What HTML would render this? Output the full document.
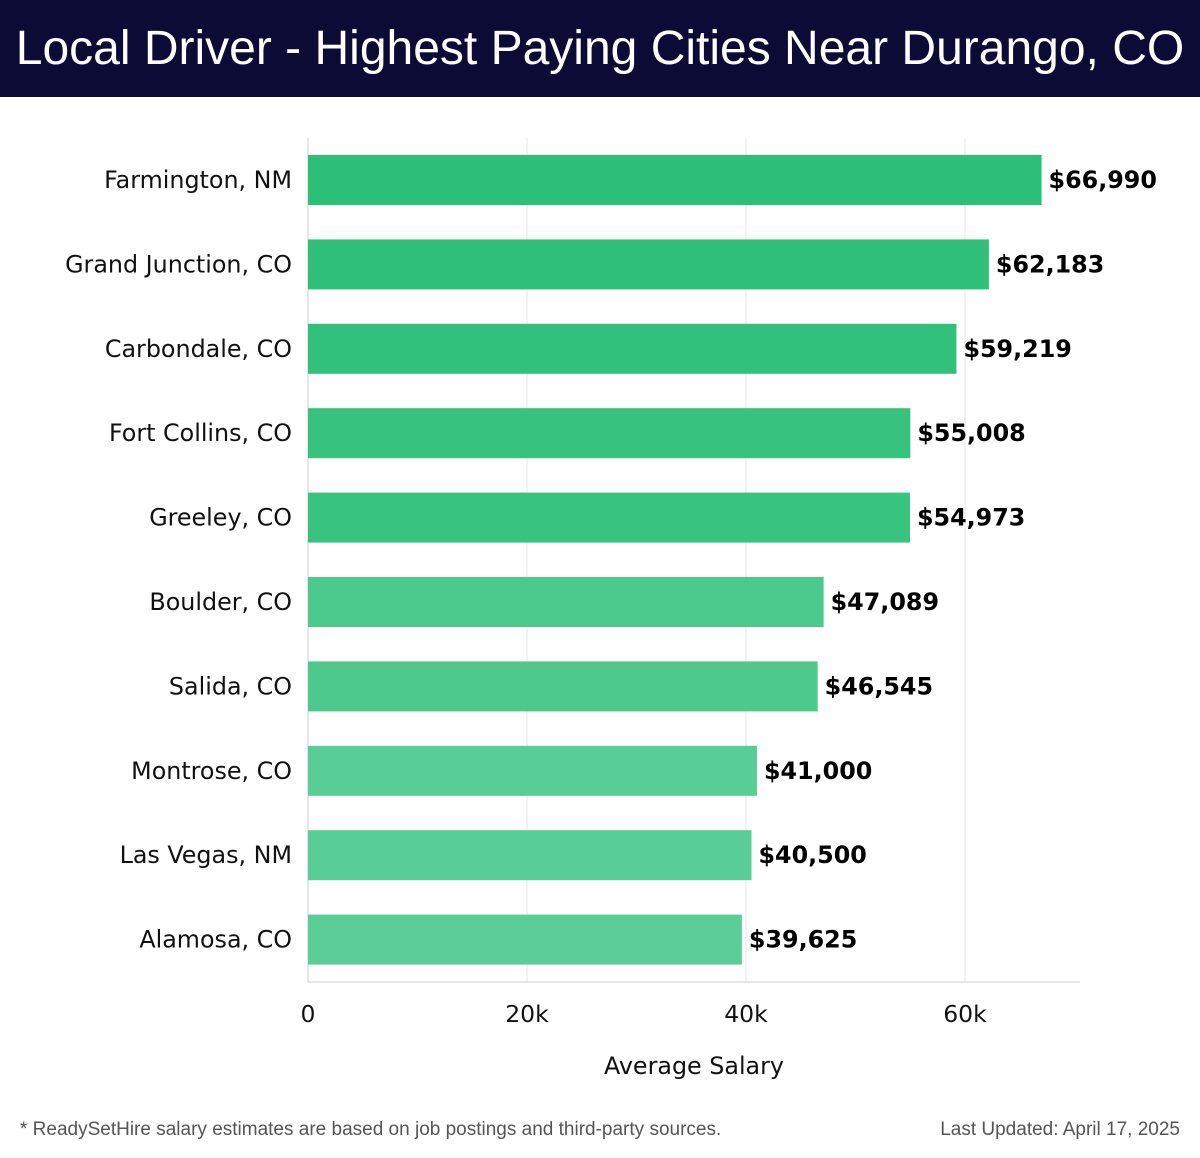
<!DOCTYPE html>
<html><head><meta charset="utf-8">
<style>
body{margin:0;width:1200px;height:1158px;background:#fff;font-family:"Liberation Sans","DejaVu Sans",sans-serif;overflow:hidden;position:relative}
#title{position:absolute;left:0;top:0;width:1200px;height:97px;background:#0b0b35;color:#fff;font-size:48px;line-height:97px;text-align:center;white-space:nowrap}
.foot{position:absolute;top:1119px;font-size:19px;color:#555}
svg text{font-family:"DejaVu Sans",sans-serif}
</style></head><body>
<div id="title">Local Driver - Highest Paying Cities Near Durango, CO</div>
<svg id="chart" width="1200" height="1100" style="position:absolute;left:0;top:0"></svg>
<div class="foot" style="left:20px">* ReadySetHire salary estimates are based on job postings and third-party sources.</div>
<div class="foot" style="right:20px">Last Updated: April 17, 2025</div>
<script>
const categories=["Farmington, NM","Grand Junction, CO","Carbondale, CO","Fort Collins, CO","Greeley, CO","Boulder, CO","Salida, CO","Montrose, CO","Las Vegas, NM","Alamosa, CO"];
const values=[66990,62183,59219,55008,54973,47089,46545,41000,40500,39625];
const labels=["$66,990","$62,183","$59,219","$55,008","$54,973","$47,089","$46,545","$41,000","$40,500","$39,625"];
const colors=["#2bbf77","#30c07a","#32c17b","#37c27e","#38c37f","#4cc98c","#4dc98d","#58cd95","#58cd95","#5bce97"];
const ticks=[0,20000,40000,60000];
const tickLabels=["0","20k","40k","60k"];
const svg=document.getElementById('chart');const NS='http://www.w3.org/2000/svg';
const x=v=>308+v*(657/60000);
const y=i=>180+i*84.4;
function mk(t,a,p){const e=document.createElementNS(NS,t);for(const k in a)e.setAttribute(k,a[k]);(p||svg).appendChild(e);return e;}
ticks.forEach((t,i)=>{
 const g=mk('line',{x1:x(t),x2:x(t),y1:138,y2:982,stroke:i==0?'#ccc':'#e6e6e6','stroke-width':1});
 
 
 const tl=mk('text',{x:x(t),y:1022,'text-anchor':'middle','font-size':23.5,fill:'#111'});tl.textContent=tickLabels[i];
 
 
});
const ax=mk('line',{x1:308,x2:1080,y1:982,y2:982,stroke:'#ccc'});


categories.forEach((c,i)=>{
 const r=mk('rect',{x:x(0),y:y(i)-25,width:x(values[i])-x(0),height:50,fill:colors[i]});
 
 
 const cl=mk('text',{x:292,y:y(i)+8,'text-anchor':'end','font-size':23.8,fill:'#111'});cl.textContent=c;
 
 
 const vl=mk('text',{x:x(values[i])+7,y:y(i)+8,'font-size':23.8,'font-weight':'bold',fill:'#000'});vl.textContent=labels[i];
 
 
});
const at=mk('text',{x:694,y:1074,'text-anchor':'middle','font-size':23.8,fill:'#111'});at.textContent='Average Salary';


</script>
</body></html>
